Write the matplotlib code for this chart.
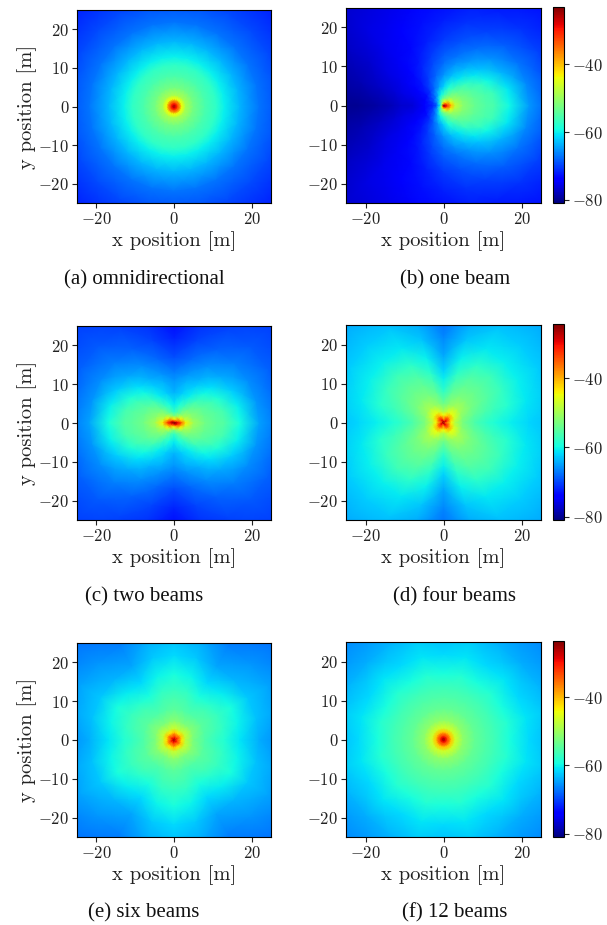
import numpy as np
import matplotlib

matplotlib.use("Agg")
from matplotlib import pyplot as plt

plt.rcParams["font.family"] = ["cmr10", "DejaVu Serif"]
plt.rcParams["mathtext.fontset"] = "cm"
plt.rcParams["axes.formatter.use_mathtext"] = True
plt.rcParams["axes.unicode_minus"] = True

# received power in dB: one row per angle, one column per radius
radii = [0, 0.5, 1, 2, 3, 5, 8, 11, 13, 17, 22, 28, 36]
angle_step = 15

omni_profile = [-24, -29, -33, -44, -49, -52.5, -55.5, -57.5, -60, -63.5, -67, -69.5, -72]

# one beam: angles 0..180, mirrored below the x axis
one_beam = [
    [-24, -27, -32, -40, -47, -51, -53.5, -55, -55.5, -59.5, -65, -69, -73],
    [-24, -28, -33, -42, -48, -51.5, -54, -55.5, -56.5, -60.5, -66, -69.5, -73],
    [-24, -29, -36, -45, -49.5, -52.5, -55, -57, -59.5, -63.5, -67, -70, -72.5],
    [-24, -31, -39, -47, -51, -54, -57, -60.5, -62.5, -65.5, -68.5, -71, -73],
    [-24, -33, -42, -50, -53, -56.5, -60.5, -63.5, -65, -67.5, -70, -72, -73.5],
    [-24, -35, -45, -52, -55, -59, -63, -65.5, -67, -69, -71, -72.5, -74],
    [-24, -38, -47, -54, -58, -62, -65.5, -67.5, -68.5, -70.5, -72, -73.5, -75],
    [-24, -40, -49, -56, -60, -65, -68, -69.5, -70.5, -72, -73, -74.5, -76],
    [-24, -43, -52, -59, -64, -68, -70.5, -71.5, -72.5, -73.5, -74.5, -75.5, -76.5],
    [-24, -46, -55, -63, -67, -71, -72.5, -73.5, -74, -75, -75.5, -76, -77],
    [-24, -48, -58, -65, -69, -73, -74, -75, -75.5, -76, -77, -77.5, -78],
    [-24, -50, -60, -68, -71, -74, -75.5, -76, -76.5, -77.5, -78.5, -79, -78.5],
    [-24, -52, -62, -70, -72, -74.5, -76.5, -77, -78, -79, -80, -80, -79],
]

# the other panels: angles 0..90, mirrored into the other quadrants
two_beams = [
    [-24, -27, -30, -36, -44, -50, -53.5, -55, -55.5, -59.5, -65, -68, -71.5],
    [-24, -28, -32, -40, -47, -51.5, -54, -55.5, -56.5, -60.5, -65.5, -68.5, -71],
    [-24, -29, -35, -44, -49.5, -52.5, -55, -57, -59, -62.5, -66, -68.5, -70.5],
    [-24, -31, -38, -47, -51.5, -54, -57, -60, -61.5, -64.5, -67, -69, -70.5],
    [-24, -33, -41, -50, -54, -57, -60.5, -62.5, -64, -66, -68.5, -70, -71],
    [-24, -34, -43, -52, -56, -59.5, -62.5, -64, -65.5, -68, -70, -71.5, -72.5],
    [-24, -35, -45, -54, -58, -61, -64, -65.5, -67, -69.5, -72, -74, -75],
]
four_beams = [
    [-24, -34, -38, -45, -49, -53, -56, -58, -59, -60.5, -62, -63.5, -65],
    [-24, -33, -35, -43, -47.5, -52, -54.5, -56, -57, -58.5, -61, -63, -65],
    [-24, -30, -33, -41, -46, -50.5, -53, -54.5, -55.5, -57.5, -60.5, -62.5, -64.5],
    [-24, -29, -32, -40, -45, -49.5, -52.5, -54, -55, -57, -60.5, -62.5, -64.5],
    [-24, -30, -33, -41, -46, -50.5, -53, -54.5, -55.5, -58, -61, -63, -64.5],
    [-24, -33, -36, -43.5, -48, -52, -54.5, -56.5, -58, -60.5, -63, -65, -66],
    [-24, -36, -40, -46, -50, -54, -58, -60.5, -62, -64.5, -66.5, -68, -69],
]
six_beams = [
    [-24, -31, -35, -43, -48, -52.5, -55.5, -57.5, -58.5, -61, -64, -66, -68],
    [-24, -30, -34, -42, -47.5, -52, -55, -56.5, -57.5, -60, -63, -65, -67.5],
    [-24, -29, -33, -41, -47, -51.5, -54.5, -56, -57, -59, -62.5, -64.5, -67],
    [-24, -30, -34, -42, -47.5, -52, -55, -56.5, -58, -60.5, -63.5, -65.5, -67.5],
    [-24, -31, -35, -43, -48, -52.5, -55.5, -57.5, -59, -61.5, -64.5, -66.5, -68],
    [-24, -30, -34, -42, -47.5, -52, -55, -56.5, -57.5, -60, -62.5, -64.5, -66.5],
    [-24, -29, -33, -41, -47, -51.5, -54.5, -56, -57, -59, -61.5, -63.5, -65.5],
]
twelve_beams = [
    [-24, -29, -33, -41, -46.5, -51, -54, -55.5, -56.5, -59, -61.5, -63.5, -65.5],
    [-24, -29, -33, -41, -46.5, -51, -54, -55.5, -56.5, -58.5, -61, -63, -65.5],
    [-24, -29, -33, -41, -46.5, -51, -54, -55.5, -56.5, -59, -61.5, -63.5, -66],
    [-24, -29, -33, -41, -46.5, -51, -54, -55.5, -56.5, -58.5, -61, -64, -66],
    [-24, -29, -33, -41, -46.5, -51, -54, -55.5, -56.5, -59, -61.5, -63.5, -66],
    [-24, -29, -33, -41, -46.5, -51, -54, -55.5, -56.5, -58.5, -61, -63, -65.5],
    [-24, -29, -33, -41, -46.5, -51, -54, -55.5, -56.5, -59, -61.5, -63.5, -65.5],
]

captions = [
    "(a) omnidirectional",
    "(b) one beam",
    "(c) two beams",
    "(d) four beams",
    "(e) six beams",
    "(f) 12 beams",
]
color_limits = [(-81, -23), (-81, -24.3), (-81, -23.5)]
x_ticks = [-20, 0, 20]
y_ticks = [-20, -10, 0, 10, 20]
bar_ticks = [-40, -60, -80]

W, H = 607, 925


def mirror_half(rows):
    rows = np.asarray(rows, dtype=float)
    return np.vstack([rows, rows[-2::-1]])


def mirror_quadrant(rows):
    return mirror_half(mirror_half(rows))


def px_axes(fig, left, top, right, bottom):
    return fig.add_axes([left / W, 1 - bottom / H, (right - left) / W, (bottom - top) / H])


tables = [
    np.tile(omni_profile, (25, 1)),
    mirror_half(one_beam),
    mirror_quadrant(two_beams),
    mirror_quadrant(four_beams),
    mirror_quadrant(six_beams),
    mirror_quadrant(twelve_beams),
]
# left, top, right, bottom in pixels
boxes = [
    (77, 10, 271, 203), (346, 8, 541, 203),
    (77, 326, 271, 520), (346, 325, 541, 520),
    (77, 643, 271, 837), (346, 642, 541, 837),
]
bar_boxes = [(553, 7, 564, 203), (553, 324, 564, 520), (553, 641, 564, 837)]
caption_x = [144, 455, 144, 455, 144, 455]
caption_y = [280, 280, 597, 597, 913, 913]

angles = np.deg2rad(np.arange(0, 361, angle_step))
r_grid, a_grid = np.meshgrid(radii, angles)
x_grid = r_grid * np.cos(a_grid)
y_grid = r_grid * np.sin(a_grid)

fig = plt.figure(figsize=(W / 100, H / 100), dpi=100)
for i, (table, box) in enumerate(zip(tables, boxes)):
    ax = px_axes(fig, *box)
    vmin, vmax = color_limits[i // 2]
    mesh = ax.pcolormesh(x_grid, y_grid, table, cmap="jet", vmin=vmin, vmax=vmax, shading="gouraud")
    ax.set_xlim(-25, 25)
    ax.set_ylim(-25, 25)
    ax.set_xticks(x_ticks)
    ax.set_yticks(y_ticks)
    ax.tick_params(labelsize=12, length=3.5, width=0.8, pad=2, colors="#222222")
    ax.set_xlabel("x position [m]", fontsize=14.8, labelpad=3, color="#222222")
    if i % 2 == 0:
        ax.set_ylabel("y position [m]", fontsize=14.8, labelpad=1, color="#222222")
    else:
        cax = px_axes(fig, *bar_boxes[i // 2])
        bar = fig.colorbar(mesh, cax=cax, ticks=bar_ticks)
        bar.ax.tick_params(labelsize=12, length=3.5, width=0.8, pad=2, colors="#222222")
    fig.text(caption_x[i] / W, 1 - caption_y[i] / H, captions[i], family=["Liberation Serif"], fontsize=15,
             ha="center", va="center", color="#111111")

fig.savefig("out.png", dpi=100)
